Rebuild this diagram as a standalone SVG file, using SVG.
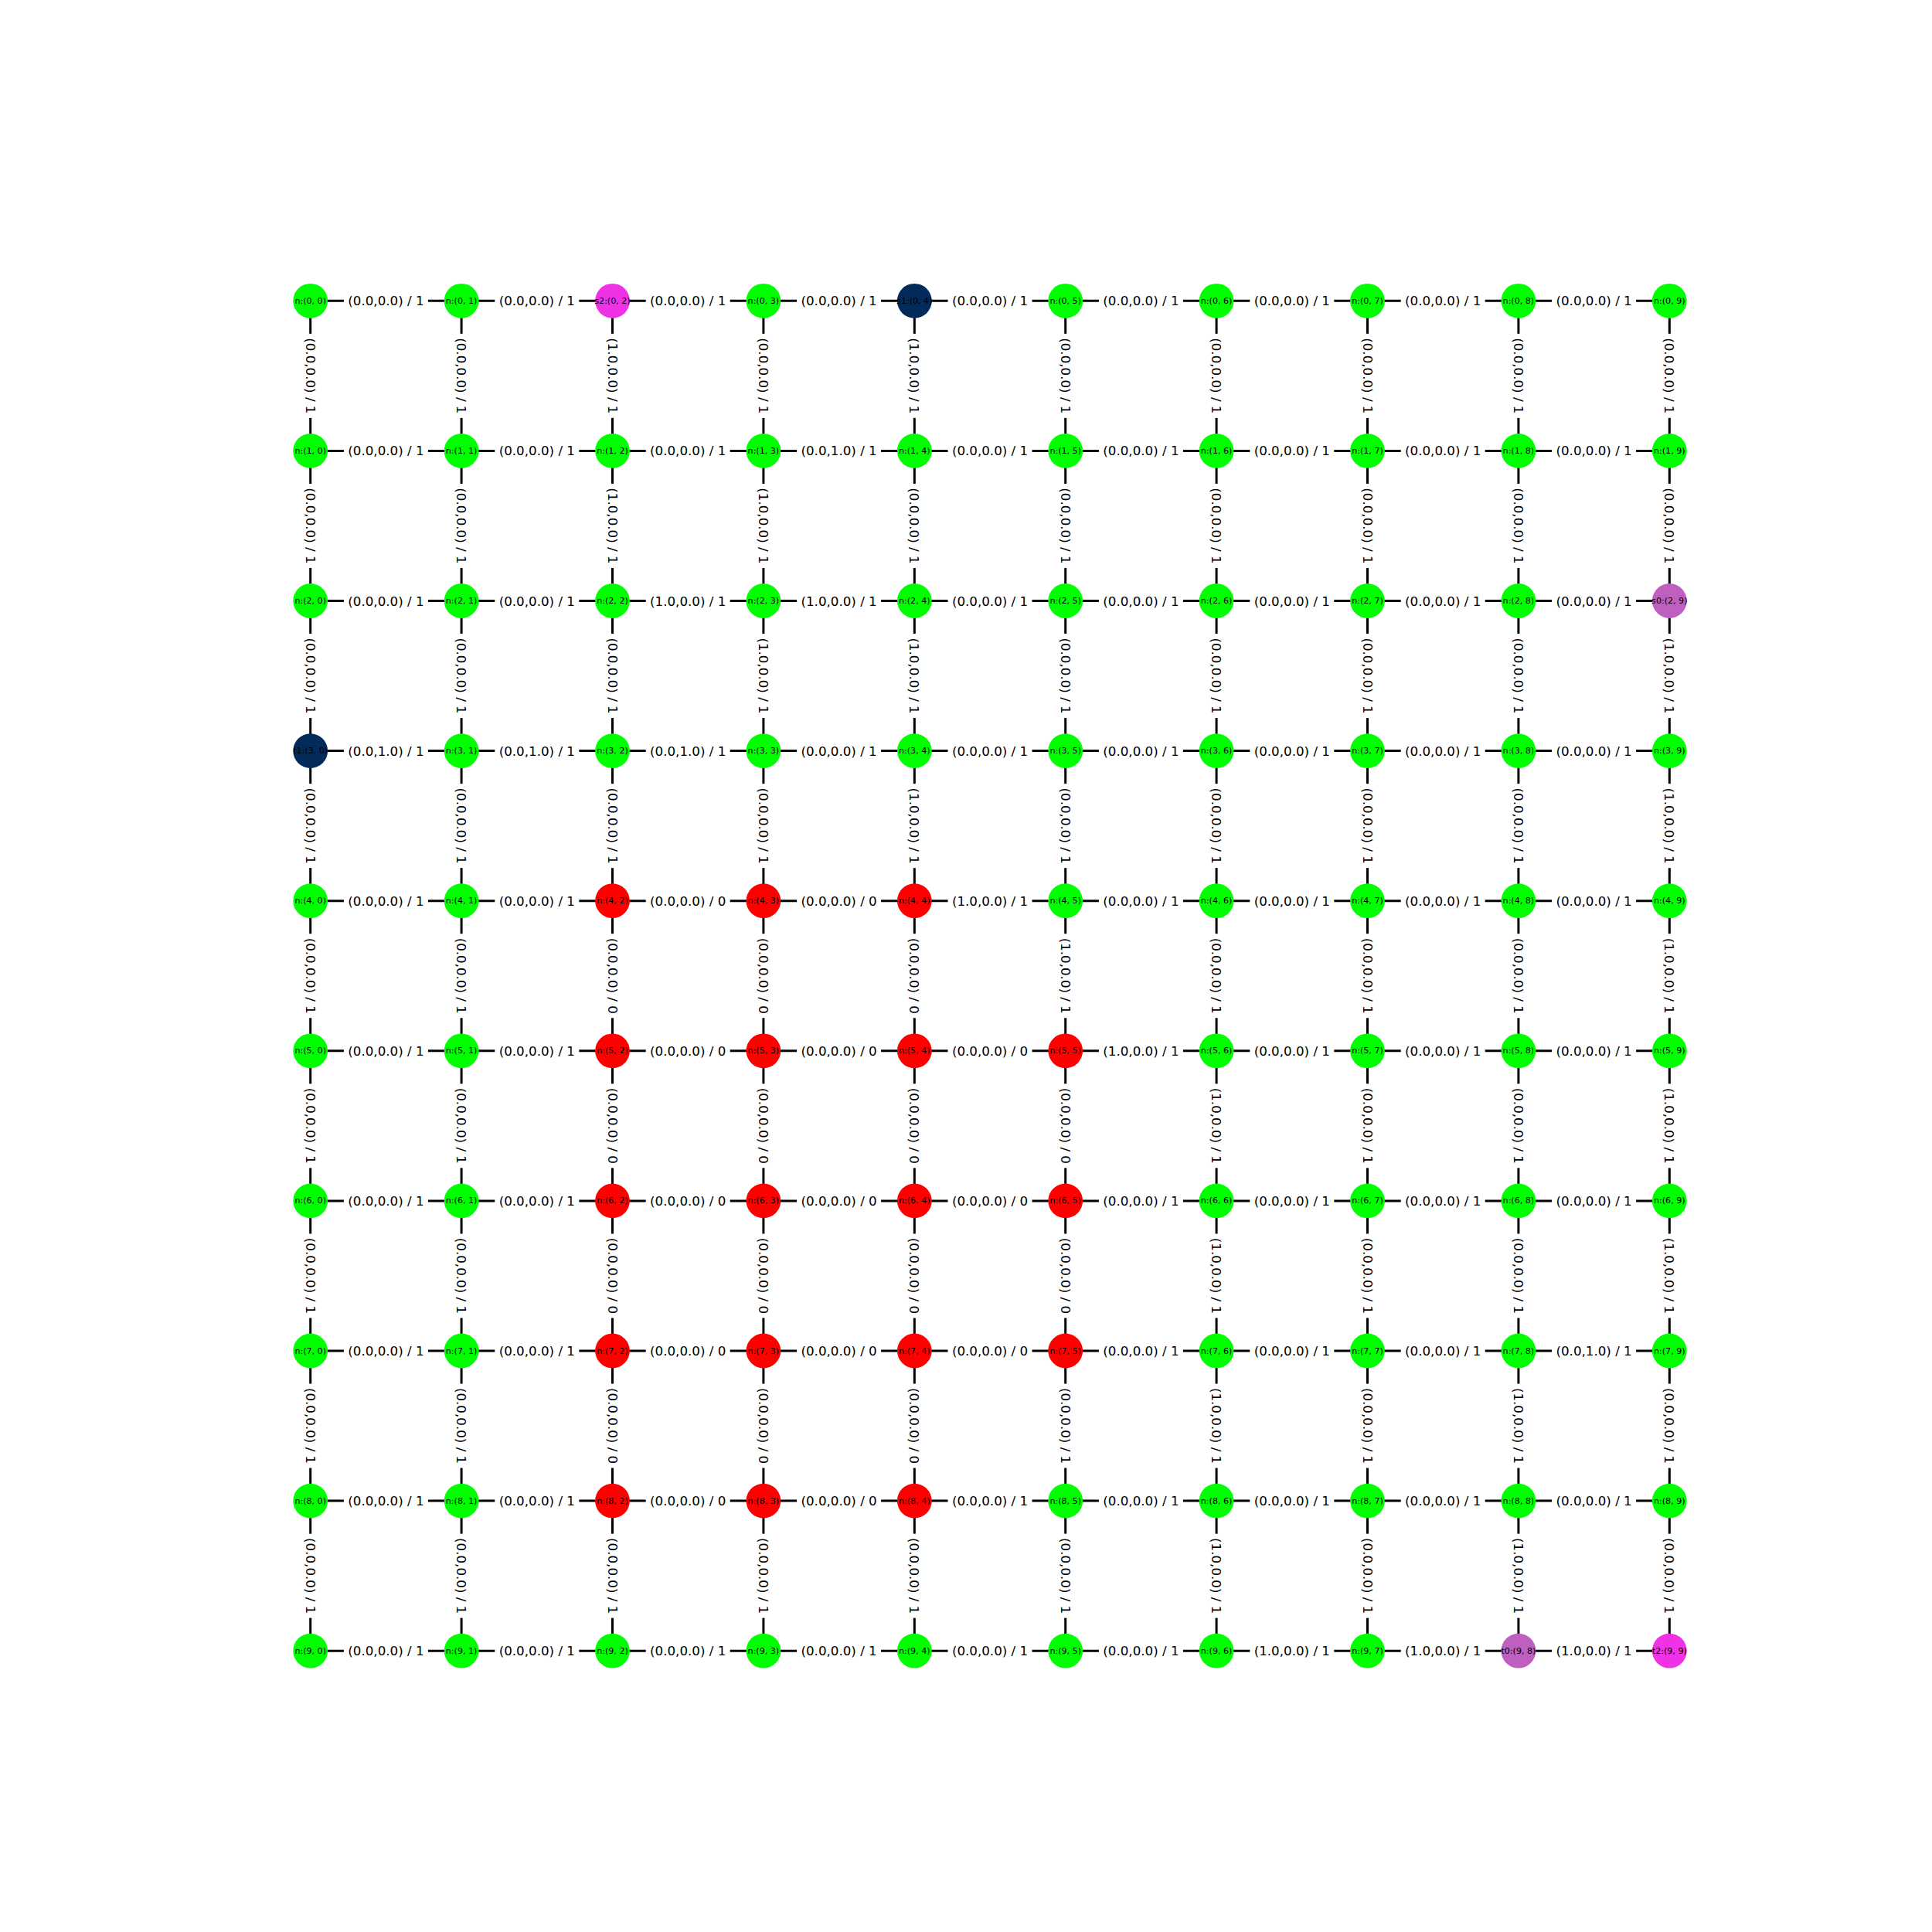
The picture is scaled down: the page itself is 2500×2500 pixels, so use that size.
<svg xmlns="http://www.w3.org/2000/svg" width="2500" height="2500" viewBox="0 0 2500 2500">
<style>
.e path{stroke:#000;stroke-width:3;fill:none}
#bx{fill:#fff;stroke:none}
.lb text{font-family:"DejaVu Sans","Liberation Sans",sans-serif;font-size:16.7px;fill:#000;text-anchor:middle;dominant-baseline:central}
.nd circle{stroke:none}
.nd text{font-family:"DejaVu Sans","Liberation Sans",sans-serif;font-size:11.1px;fill:#000;text-anchor:middle;dominant-baseline:central}
.g{fill:#00ff00}.r{fill:#ff0000}.b{fill:#032b5a}.m{fill:#f032e6}.p{fill:#bf5fbf}
</style>
<defs><rect id="bx" x="-54.5" y="-13" width="109" height="26" fill="#fff"/></defs>
<rect width="2500" height="2500" fill="#fff"/>
<g id="connectors" class="e">
<path d="M401.7 389.3H2160.3"/><path d="M401.7 583.4H2160.3"/><path d="M401.7 777.5H2160.3"/><path d="M401.7 971.6H2160.3"/><path d="M401.7 1165.7H2160.3"/><path d="M401.7 1359.8H2160.3"/><path d="M401.7 1553.9H2160.3"/><path d="M401.7 1748H2160.3"/><path d="M401.7 1942.1H2160.3"/><path d="M401.7 2136.2H2160.3"/>
<path d="M401.7 389.3V2136.2"/><path d="M597.1 389.3V2136.2"/><path d="M792.5 389.3V2136.2"/><path d="M987.9 389.3V2136.2"/><path d="M1183.3 389.3V2136.2"/><path d="M1378.7 389.3V2136.2"/><path d="M1574.1 389.3V2136.2"/><path d="M1769.5 389.3V2136.2"/><path d="M1964.9 389.3V2136.2"/><path d="M2160.3 389.3V2136.2"/>
</g>
<g id="nodes" class="nd">
<g id="n0-0" transform="translate(401.7,389.3)"><circle class="g" r="22.4"/><text>n:(0, 0)</text></g>
<g id="n0-1" transform="translate(597.1,389.3)"><circle class="g" r="22.4"/><text>n:(0, 1)</text></g>
<g id="n0-2" transform="translate(792.5,389.3)"><circle class="m" r="22.4"/><text>s2:(0, 2)</text></g>
<g id="n0-3" transform="translate(987.9,389.3)"><circle class="g" r="22.4"/><text>n:(0, 3)</text></g>
<g id="n0-4" transform="translate(1183.3,389.3)"><circle class="b" r="22.4"/><text>s1:(0, 4)</text></g>
<g id="n0-5" transform="translate(1378.7,389.3)"><circle class="g" r="22.4"/><text>n:(0, 5)</text></g>
<g id="n0-6" transform="translate(1574.1,389.3)"><circle class="g" r="22.4"/><text>n:(0, 6)</text></g>
<g id="n0-7" transform="translate(1769.5,389.3)"><circle class="g" r="22.4"/><text>n:(0, 7)</text></g>
<g id="n0-8" transform="translate(1964.9,389.3)"><circle class="g" r="22.4"/><text>n:(0, 8)</text></g>
<g id="n0-9" transform="translate(2160.3,389.3)"><circle class="g" r="22.4"/><text>n:(0, 9)</text></g>
<g id="n1-0" transform="translate(401.7,583.4)"><circle class="g" r="22.4"/><text>n:(1, 0)</text></g>
<g id="n1-1" transform="translate(597.1,583.4)"><circle class="g" r="22.4"/><text>n:(1, 1)</text></g>
<g id="n1-2" transform="translate(792.5,583.4)"><circle class="g" r="22.4"/><text>n:(1, 2)</text></g>
<g id="n1-3" transform="translate(987.9,583.4)"><circle class="g" r="22.4"/><text>n:(1, 3)</text></g>
<g id="n1-4" transform="translate(1183.3,583.4)"><circle class="g" r="22.4"/><text>n:(1, 4)</text></g>
<g id="n1-5" transform="translate(1378.7,583.4)"><circle class="g" r="22.4"/><text>n:(1, 5)</text></g>
<g id="n1-6" transform="translate(1574.1,583.4)"><circle class="g" r="22.4"/><text>n:(1, 6)</text></g>
<g id="n1-7" transform="translate(1769.5,583.4)"><circle class="g" r="22.4"/><text>n:(1, 7)</text></g>
<g id="n1-8" transform="translate(1964.9,583.4)"><circle class="g" r="22.4"/><text>n:(1, 8)</text></g>
<g id="n1-9" transform="translate(2160.3,583.4)"><circle class="g" r="22.4"/><text>n:(1, 9)</text></g>
<g id="n2-0" transform="translate(401.7,777.5)"><circle class="g" r="22.4"/><text>n:(2, 0)</text></g>
<g id="n2-1" transform="translate(597.1,777.5)"><circle class="g" r="22.4"/><text>n:(2, 1)</text></g>
<g id="n2-2" transform="translate(792.5,777.5)"><circle class="g" r="22.4"/><text>n:(2, 2)</text></g>
<g id="n2-3" transform="translate(987.9,777.5)"><circle class="g" r="22.4"/><text>n:(2, 3)</text></g>
<g id="n2-4" transform="translate(1183.3,777.5)"><circle class="g" r="22.4"/><text>n:(2, 4)</text></g>
<g id="n2-5" transform="translate(1378.7,777.5)"><circle class="g" r="22.4"/><text>n:(2, 5)</text></g>
<g id="n2-6" transform="translate(1574.1,777.5)"><circle class="g" r="22.4"/><text>n:(2, 6)</text></g>
<g id="n2-7" transform="translate(1769.5,777.5)"><circle class="g" r="22.4"/><text>n:(2, 7)</text></g>
<g id="n2-8" transform="translate(1964.9,777.5)"><circle class="g" r="22.4"/><text>n:(2, 8)</text></g>
<g id="n2-9" transform="translate(2160.3,777.5)"><circle class="p" r="22.4"/><text>s0:(2, 9)</text></g>
<g id="n3-0" transform="translate(401.7,971.6)"><circle class="b" r="22.4"/><text>t1:(3, 0)</text></g>
<g id="n3-1" transform="translate(597.1,971.6)"><circle class="g" r="22.4"/><text>n:(3, 1)</text></g>
<g id="n3-2" transform="translate(792.5,971.6)"><circle class="g" r="22.4"/><text>n:(3, 2)</text></g>
<g id="n3-3" transform="translate(987.9,971.6)"><circle class="g" r="22.4"/><text>n:(3, 3)</text></g>
<g id="n3-4" transform="translate(1183.3,971.6)"><circle class="g" r="22.4"/><text>n:(3, 4)</text></g>
<g id="n3-5" transform="translate(1378.7,971.6)"><circle class="g" r="22.4"/><text>n:(3, 5)</text></g>
<g id="n3-6" transform="translate(1574.1,971.6)"><circle class="g" r="22.4"/><text>n:(3, 6)</text></g>
<g id="n3-7" transform="translate(1769.5,971.6)"><circle class="g" r="22.4"/><text>n:(3, 7)</text></g>
<g id="n3-8" transform="translate(1964.9,971.6)"><circle class="g" r="22.4"/><text>n:(3, 8)</text></g>
<g id="n3-9" transform="translate(2160.3,971.6)"><circle class="g" r="22.4"/><text>n:(3, 9)</text></g>
<g id="n4-0" transform="translate(401.7,1165.7)"><circle class="g" r="22.4"/><text>n:(4, 0)</text></g>
<g id="n4-1" transform="translate(597.1,1165.7)"><circle class="g" r="22.4"/><text>n:(4, 1)</text></g>
<g id="n4-2" transform="translate(792.5,1165.7)"><circle class="r" r="22.4"/><text>n:(4, 2)</text></g>
<g id="n4-3" transform="translate(987.9,1165.7)"><circle class="r" r="22.4"/><text>n:(4, 3)</text></g>
<g id="n4-4" transform="translate(1183.3,1165.7)"><circle class="r" r="22.4"/><text>n:(4, 4)</text></g>
<g id="n4-5" transform="translate(1378.7,1165.7)"><circle class="g" r="22.4"/><text>n:(4, 5)</text></g>
<g id="n4-6" transform="translate(1574.1,1165.7)"><circle class="g" r="22.4"/><text>n:(4, 6)</text></g>
<g id="n4-7" transform="translate(1769.5,1165.7)"><circle class="g" r="22.4"/><text>n:(4, 7)</text></g>
<g id="n4-8" transform="translate(1964.9,1165.7)"><circle class="g" r="22.4"/><text>n:(4, 8)</text></g>
<g id="n4-9" transform="translate(2160.3,1165.7)"><circle class="g" r="22.4"/><text>n:(4, 9)</text></g>
<g id="n5-0" transform="translate(401.7,1359.8)"><circle class="g" r="22.4"/><text>n:(5, 0)</text></g>
<g id="n5-1" transform="translate(597.1,1359.8)"><circle class="g" r="22.4"/><text>n:(5, 1)</text></g>
<g id="n5-2" transform="translate(792.5,1359.8)"><circle class="r" r="22.4"/><text>n:(5, 2)</text></g>
<g id="n5-3" transform="translate(987.9,1359.8)"><circle class="r" r="22.4"/><text>n:(5, 3)</text></g>
<g id="n5-4" transform="translate(1183.3,1359.8)"><circle class="r" r="22.4"/><text>n:(5, 4)</text></g>
<g id="n5-5" transform="translate(1378.7,1359.8)"><circle class="r" r="22.4"/><text>n:(5, 5)</text></g>
<g id="n5-6" transform="translate(1574.1,1359.8)"><circle class="g" r="22.4"/><text>n:(5, 6)</text></g>
<g id="n5-7" transform="translate(1769.5,1359.8)"><circle class="g" r="22.4"/><text>n:(5, 7)</text></g>
<g id="n5-8" transform="translate(1964.9,1359.8)"><circle class="g" r="22.4"/><text>n:(5, 8)</text></g>
<g id="n5-9" transform="translate(2160.3,1359.8)"><circle class="g" r="22.4"/><text>n:(5, 9)</text></g>
<g id="n6-0" transform="translate(401.7,1553.9)"><circle class="g" r="22.4"/><text>n:(6, 0)</text></g>
<g id="n6-1" transform="translate(597.1,1553.9)"><circle class="g" r="22.4"/><text>n:(6, 1)</text></g>
<g id="n6-2" transform="translate(792.5,1553.9)"><circle class="r" r="22.4"/><text>n:(6, 2)</text></g>
<g id="n6-3" transform="translate(987.9,1553.9)"><circle class="r" r="22.4"/><text>n:(6, 3)</text></g>
<g id="n6-4" transform="translate(1183.3,1553.9)"><circle class="r" r="22.4"/><text>n:(6, 4)</text></g>
<g id="n6-5" transform="translate(1378.7,1553.9)"><circle class="r" r="22.4"/><text>n:(6, 5)</text></g>
<g id="n6-6" transform="translate(1574.1,1553.9)"><circle class="g" r="22.4"/><text>n:(6, 6)</text></g>
<g id="n6-7" transform="translate(1769.5,1553.9)"><circle class="g" r="22.4"/><text>n:(6, 7)</text></g>
<g id="n6-8" transform="translate(1964.9,1553.9)"><circle class="g" r="22.4"/><text>n:(6, 8)</text></g>
<g id="n6-9" transform="translate(2160.3,1553.9)"><circle class="g" r="22.4"/><text>n:(6, 9)</text></g>
<g id="n7-0" transform="translate(401.7,1748)"><circle class="g" r="22.4"/><text>n:(7, 0)</text></g>
<g id="n7-1" transform="translate(597.1,1748)"><circle class="g" r="22.4"/><text>n:(7, 1)</text></g>
<g id="n7-2" transform="translate(792.5,1748)"><circle class="r" r="22.4"/><text>n:(7, 2)</text></g>
<g id="n7-3" transform="translate(987.9,1748)"><circle class="r" r="22.4"/><text>n:(7, 3)</text></g>
<g id="n7-4" transform="translate(1183.3,1748)"><circle class="r" r="22.4"/><text>n:(7, 4)</text></g>
<g id="n7-5" transform="translate(1378.7,1748)"><circle class="r" r="22.4"/><text>n:(7, 5)</text></g>
<g id="n7-6" transform="translate(1574.1,1748)"><circle class="g" r="22.4"/><text>n:(7, 6)</text></g>
<g id="n7-7" transform="translate(1769.5,1748)"><circle class="g" r="22.4"/><text>n:(7, 7)</text></g>
<g id="n7-8" transform="translate(1964.9,1748)"><circle class="g" r="22.4"/><text>n:(7, 8)</text></g>
<g id="n7-9" transform="translate(2160.3,1748)"><circle class="g" r="22.4"/><text>n:(7, 9)</text></g>
<g id="n8-0" transform="translate(401.7,1942.1)"><circle class="g" r="22.4"/><text>n:(8, 0)</text></g>
<g id="n8-1" transform="translate(597.1,1942.1)"><circle class="g" r="22.4"/><text>n:(8, 1)</text></g>
<g id="n8-2" transform="translate(792.5,1942.1)"><circle class="r" r="22.4"/><text>n:(8, 2)</text></g>
<g id="n8-3" transform="translate(987.9,1942.1)"><circle class="r" r="22.4"/><text>n:(8, 3)</text></g>
<g id="n8-4" transform="translate(1183.3,1942.1)"><circle class="r" r="22.4"/><text>n:(8, 4)</text></g>
<g id="n8-5" transform="translate(1378.7,1942.1)"><circle class="g" r="22.4"/><text>n:(8, 5)</text></g>
<g id="n8-6" transform="translate(1574.1,1942.1)"><circle class="g" r="22.4"/><text>n:(8, 6)</text></g>
<g id="n8-7" transform="translate(1769.5,1942.1)"><circle class="g" r="22.4"/><text>n:(8, 7)</text></g>
<g id="n8-8" transform="translate(1964.9,1942.1)"><circle class="g" r="22.4"/><text>n:(8, 8)</text></g>
<g id="n8-9" transform="translate(2160.3,1942.1)"><circle class="g" r="22.4"/><text>n:(8, 9)</text></g>
<g id="n9-0" transform="translate(401.7,2136.2)"><circle class="g" r="22.4"/><text>n:(9, 0)</text></g>
<g id="n9-1" transform="translate(597.1,2136.2)"><circle class="g" r="22.4"/><text>n:(9, 1)</text></g>
<g id="n9-2" transform="translate(792.5,2136.2)"><circle class="g" r="22.4"/><text>n:(9, 2)</text></g>
<g id="n9-3" transform="translate(987.9,2136.2)"><circle class="g" r="22.4"/><text>n:(9, 3)</text></g>
<g id="n9-4" transform="translate(1183.3,2136.2)"><circle class="g" r="22.4"/><text>n:(9, 4)</text></g>
<g id="n9-5" transform="translate(1378.7,2136.2)"><circle class="g" r="22.4"/><text>n:(9, 5)</text></g>
<g id="n9-6" transform="translate(1574.1,2136.2)"><circle class="g" r="22.4"/><text>n:(9, 6)</text></g>
<g id="n9-7" transform="translate(1769.5,2136.2)"><circle class="g" r="22.4"/><text>n:(9, 7)</text></g>
<g id="n9-8" transform="translate(1964.9,2136.2)"><circle class="p" r="22.4"/><text>t0:(9, 8)</text></g>
<g id="n9-9" transform="translate(2160.3,2136.2)"><circle class="m" r="22.4"/><text>t2:(9, 9)</text></g>
</g>
<g id="edge-labels" class="lb">
<g transform="translate(499.4,389.3)"><use href="#bx"/><text>(0.0,0.0) / 1</text></g>
<g transform="translate(694.8,389.3)"><use href="#bx"/><text>(0.0,0.0) / 1</text></g>
<g transform="translate(890.2,389.3)"><use href="#bx"/><text>(0.0,0.0) / 1</text></g>
<g transform="translate(1085.6,389.3)"><use href="#bx"/><text>(0.0,0.0) / 1</text></g>
<g transform="translate(1281,389.3)"><use href="#bx"/><text>(0.0,0.0) / 1</text></g>
<g transform="translate(1476.4,389.3)"><use href="#bx"/><text>(0.0,0.0) / 1</text></g>
<g transform="translate(1671.8,389.3)"><use href="#bx"/><text>(0.0,0.0) / 1</text></g>
<g transform="translate(1867.2,389.3)"><use href="#bx"/><text>(0.0,0.0) / 1</text></g>
<g transform="translate(2062.6,389.3)"><use href="#bx"/><text>(0.0,0.0) / 1</text></g>
<g transform="translate(499.4,583.4)"><use href="#bx"/><text>(0.0,0.0) / 1</text></g>
<g transform="translate(694.8,583.4)"><use href="#bx"/><text>(0.0,0.0) / 1</text></g>
<g transform="translate(890.2,583.4)"><use href="#bx"/><text>(0.0,0.0) / 1</text></g>
<g transform="translate(1085.6,583.4)"><use href="#bx"/><text>(0.0,1.0) / 1</text></g>
<g transform="translate(1281,583.4)"><use href="#bx"/><text>(0.0,0.0) / 1</text></g>
<g transform="translate(1476.4,583.4)"><use href="#bx"/><text>(0.0,0.0) / 1</text></g>
<g transform="translate(1671.8,583.4)"><use href="#bx"/><text>(0.0,0.0) / 1</text></g>
<g transform="translate(1867.2,583.4)"><use href="#bx"/><text>(0.0,0.0) / 1</text></g>
<g transform="translate(2062.6,583.4)"><use href="#bx"/><text>(0.0,0.0) / 1</text></g>
<g transform="translate(499.4,777.5)"><use href="#bx"/><text>(0.0,0.0) / 1</text></g>
<g transform="translate(694.8,777.5)"><use href="#bx"/><text>(0.0,0.0) / 1</text></g>
<g transform="translate(890.2,777.5)"><use href="#bx"/><text>(1.0,0.0) / 1</text></g>
<g transform="translate(1085.6,777.5)"><use href="#bx"/><text>(1.0,0.0) / 1</text></g>
<g transform="translate(1281,777.5)"><use href="#bx"/><text>(0.0,0.0) / 1</text></g>
<g transform="translate(1476.4,777.5)"><use href="#bx"/><text>(0.0,0.0) / 1</text></g>
<g transform="translate(1671.8,777.5)"><use href="#bx"/><text>(0.0,0.0) / 1</text></g>
<g transform="translate(1867.2,777.5)"><use href="#bx"/><text>(0.0,0.0) / 1</text></g>
<g transform="translate(2062.6,777.5)"><use href="#bx"/><text>(0.0,0.0) / 1</text></g>
<g transform="translate(499.4,971.6)"><use href="#bx"/><text>(0.0,1.0) / 1</text></g>
<g transform="translate(694.8,971.6)"><use href="#bx"/><text>(0.0,1.0) / 1</text></g>
<g transform="translate(890.2,971.6)"><use href="#bx"/><text>(0.0,1.0) / 1</text></g>
<g transform="translate(1085.6,971.6)"><use href="#bx"/><text>(0.0,0.0) / 1</text></g>
<g transform="translate(1281,971.6)"><use href="#bx"/><text>(0.0,0.0) / 1</text></g>
<g transform="translate(1476.4,971.6)"><use href="#bx"/><text>(0.0,0.0) / 1</text></g>
<g transform="translate(1671.8,971.6)"><use href="#bx"/><text>(0.0,0.0) / 1</text></g>
<g transform="translate(1867.2,971.6)"><use href="#bx"/><text>(0.0,0.0) / 1</text></g>
<g transform="translate(2062.6,971.6)"><use href="#bx"/><text>(0.0,0.0) / 1</text></g>
<g transform="translate(499.4,1165.7)"><use href="#bx"/><text>(0.0,0.0) / 1</text></g>
<g transform="translate(694.8,1165.7)"><use href="#bx"/><text>(0.0,0.0) / 1</text></g>
<g transform="translate(890.2,1165.7)"><use href="#bx"/><text>(0.0,0.0) / 0</text></g>
<g transform="translate(1085.6,1165.7)"><use href="#bx"/><text>(0.0,0.0) / 0</text></g>
<g transform="translate(1281,1165.7)"><use href="#bx"/><text>(1.0,0.0) / 1</text></g>
<g transform="translate(1476.4,1165.7)"><use href="#bx"/><text>(0.0,0.0) / 1</text></g>
<g transform="translate(1671.8,1165.7)"><use href="#bx"/><text>(0.0,0.0) / 1</text></g>
<g transform="translate(1867.2,1165.7)"><use href="#bx"/><text>(0.0,0.0) / 1</text></g>
<g transform="translate(2062.6,1165.7)"><use href="#bx"/><text>(0.0,0.0) / 1</text></g>
<g transform="translate(499.4,1359.8)"><use href="#bx"/><text>(0.0,0.0) / 1</text></g>
<g transform="translate(694.8,1359.8)"><use href="#bx"/><text>(0.0,0.0) / 1</text></g>
<g transform="translate(890.2,1359.8)"><use href="#bx"/><text>(0.0,0.0) / 0</text></g>
<g transform="translate(1085.6,1359.8)"><use href="#bx"/><text>(0.0,0.0) / 0</text></g>
<g transform="translate(1281,1359.8)"><use href="#bx"/><text>(0.0,0.0) / 0</text></g>
<g transform="translate(1476.4,1359.8)"><use href="#bx"/><text>(1.0,0.0) / 1</text></g>
<g transform="translate(1671.8,1359.8)"><use href="#bx"/><text>(0.0,0.0) / 1</text></g>
<g transform="translate(1867.2,1359.8)"><use href="#bx"/><text>(0.0,0.0) / 1</text></g>
<g transform="translate(2062.6,1359.8)"><use href="#bx"/><text>(0.0,0.0) / 1</text></g>
<g transform="translate(499.4,1553.9)"><use href="#bx"/><text>(0.0,0.0) / 1</text></g>
<g transform="translate(694.8,1553.9)"><use href="#bx"/><text>(0.0,0.0) / 1</text></g>
<g transform="translate(890.2,1553.9)"><use href="#bx"/><text>(0.0,0.0) / 0</text></g>
<g transform="translate(1085.6,1553.9)"><use href="#bx"/><text>(0.0,0.0) / 0</text></g>
<g transform="translate(1281,1553.9)"><use href="#bx"/><text>(0.0,0.0) / 0</text></g>
<g transform="translate(1476.4,1553.9)"><use href="#bx"/><text>(0.0,0.0) / 1</text></g>
<g transform="translate(1671.8,1553.9)"><use href="#bx"/><text>(0.0,0.0) / 1</text></g>
<g transform="translate(1867.2,1553.9)"><use href="#bx"/><text>(0.0,0.0) / 1</text></g>
<g transform="translate(2062.6,1553.9)"><use href="#bx"/><text>(0.0,0.0) / 1</text></g>
<g transform="translate(499.4,1748)"><use href="#bx"/><text>(0.0,0.0) / 1</text></g>
<g transform="translate(694.8,1748)"><use href="#bx"/><text>(0.0,0.0) / 1</text></g>
<g transform="translate(890.2,1748)"><use href="#bx"/><text>(0.0,0.0) / 0</text></g>
<g transform="translate(1085.6,1748)"><use href="#bx"/><text>(0.0,0.0) / 0</text></g>
<g transform="translate(1281,1748)"><use href="#bx"/><text>(0.0,0.0) / 0</text></g>
<g transform="translate(1476.4,1748)"><use href="#bx"/><text>(0.0,0.0) / 1</text></g>
<g transform="translate(1671.8,1748)"><use href="#bx"/><text>(0.0,0.0) / 1</text></g>
<g transform="translate(1867.2,1748)"><use href="#bx"/><text>(0.0,0.0) / 1</text></g>
<g transform="translate(2062.6,1748)"><use href="#bx"/><text>(0.0,1.0) / 1</text></g>
<g transform="translate(499.4,1942.1)"><use href="#bx"/><text>(0.0,0.0) / 1</text></g>
<g transform="translate(694.8,1942.1)"><use href="#bx"/><text>(0.0,0.0) / 1</text></g>
<g transform="translate(890.2,1942.1)"><use href="#bx"/><text>(0.0,0.0) / 0</text></g>
<g transform="translate(1085.6,1942.1)"><use href="#bx"/><text>(0.0,0.0) / 0</text></g>
<g transform="translate(1281,1942.1)"><use href="#bx"/><text>(0.0,0.0) / 1</text></g>
<g transform="translate(1476.4,1942.1)"><use href="#bx"/><text>(0.0,0.0) / 1</text></g>
<g transform="translate(1671.8,1942.1)"><use href="#bx"/><text>(0.0,0.0) / 1</text></g>
<g transform="translate(1867.2,1942.1)"><use href="#bx"/><text>(0.0,0.0) / 1</text></g>
<g transform="translate(2062.6,1942.1)"><use href="#bx"/><text>(0.0,0.0) / 1</text></g>
<g transform="translate(499.4,2136.2)"><use href="#bx"/><text>(0.0,0.0) / 1</text></g>
<g transform="translate(694.8,2136.2)"><use href="#bx"/><text>(0.0,0.0) / 1</text></g>
<g transform="translate(890.2,2136.2)"><use href="#bx"/><text>(0.0,0.0) / 1</text></g>
<g transform="translate(1085.6,2136.2)"><use href="#bx"/><text>(0.0,0.0) / 1</text></g>
<g transform="translate(1281,2136.2)"><use href="#bx"/><text>(0.0,0.0) / 1</text></g>
<g transform="translate(1476.4,2136.2)"><use href="#bx"/><text>(0.0,0.0) / 1</text></g>
<g transform="translate(1671.8,2136.2)"><use href="#bx"/><text>(1.0,0.0) / 1</text></g>
<g transform="translate(1867.2,2136.2)"><use href="#bx"/><text>(1.0,0.0) / 1</text></g>
<g transform="translate(2062.6,2136.2)"><use href="#bx"/><text>(1.0,0.0) / 1</text></g>

<g transform="translate(401.7,486.35) rotate(90)"><use href="#bx"/><text>(0.0,0.0) / 1</text></g>
<g transform="translate(401.7,680.45) rotate(90)"><use href="#bx"/><text>(0.0,0.0) / 1</text></g>
<g transform="translate(401.7,874.55) rotate(90)"><use href="#bx"/><text>(0.0,0.0) / 1</text></g>
<g transform="translate(401.7,1068.65) rotate(90)"><use href="#bx"/><text>(0.0,0.0) / 1</text></g>
<g transform="translate(401.7,1262.75) rotate(90)"><use href="#bx"/><text>(0.0,0.0) / 1</text></g>
<g transform="translate(401.7,1456.85) rotate(90)"><use href="#bx"/><text>(0.0,0.0) / 1</text></g>
<g transform="translate(401.7,1650.95) rotate(90)"><use href="#bx"/><text>(0.0,0.0) / 1</text></g>
<g transform="translate(401.7,1845.05) rotate(90)"><use href="#bx"/><text>(0.0,0.0) / 1</text></g>
<g transform="translate(401.7,2039.15) rotate(90)"><use href="#bx"/><text>(0.0,0.0) / 1</text></g>
<g transform="translate(597.1,486.35) rotate(90)"><use href="#bx"/><text>(0.0,0.0) / 1</text></g>
<g transform="translate(597.1,680.45) rotate(90)"><use href="#bx"/><text>(0.0,0.0) / 1</text></g>
<g transform="translate(597.1,874.55) rotate(90)"><use href="#bx"/><text>(0.0,0.0) / 1</text></g>
<g transform="translate(597.1,1068.65) rotate(90)"><use href="#bx"/><text>(0.0,0.0) / 1</text></g>
<g transform="translate(597.1,1262.75) rotate(90)"><use href="#bx"/><text>(0.0,0.0) / 1</text></g>
<g transform="translate(597.1,1456.85) rotate(90)"><use href="#bx"/><text>(0.0,0.0) / 1</text></g>
<g transform="translate(597.1,1650.95) rotate(90)"><use href="#bx"/><text>(0.0,0.0) / 1</text></g>
<g transform="translate(597.1,1845.05) rotate(90)"><use href="#bx"/><text>(0.0,0.0) / 1</text></g>
<g transform="translate(597.1,2039.15) rotate(90)"><use href="#bx"/><text>(0.0,0.0) / 1</text></g>
<g transform="translate(792.5,486.35) rotate(90)"><use href="#bx"/><text>(1.0,0.0) / 1</text></g>
<g transform="translate(792.5,680.45) rotate(90)"><use href="#bx"/><text>(1.0,0.0) / 1</text></g>
<g transform="translate(792.5,874.55) rotate(90)"><use href="#bx"/><text>(0.0,0.0) / 1</text></g>
<g transform="translate(792.5,1068.65) rotate(90)"><use href="#bx"/><text>(0.0,0.0) / 1</text></g>
<g transform="translate(792.5,1262.75) rotate(90)"><use href="#bx"/><text>(0.0,0.0) / 0</text></g>
<g transform="translate(792.5,1456.85) rotate(90)"><use href="#bx"/><text>(0.0,0.0) / 0</text></g>
<g transform="translate(792.5,1650.95) rotate(90)"><use href="#bx"/><text>(0.0,0.0) / 0</text></g>
<g transform="translate(792.5,1845.05) rotate(90)"><use href="#bx"/><text>(0.0,0.0) / 0</text></g>
<g transform="translate(792.5,2039.15) rotate(90)"><use href="#bx"/><text>(0.0,0.0) / 1</text></g>
<g transform="translate(987.9,486.35) rotate(90)"><use href="#bx"/><text>(0.0,0.0) / 1</text></g>
<g transform="translate(987.9,680.45) rotate(90)"><use href="#bx"/><text>(1.0,0.0) / 1</text></g>
<g transform="translate(987.9,874.55) rotate(90)"><use href="#bx"/><text>(1.0,0.0) / 1</text></g>
<g transform="translate(987.9,1068.65) rotate(90)"><use href="#bx"/><text>(0.0,0.0) / 1</text></g>
<g transform="translate(987.9,1262.75) rotate(90)"><use href="#bx"/><text>(0.0,0.0) / 0</text></g>
<g transform="translate(987.9,1456.85) rotate(90)"><use href="#bx"/><text>(0.0,0.0) / 0</text></g>
<g transform="translate(987.9,1650.95) rotate(90)"><use href="#bx"/><text>(0.0,0.0) / 0</text></g>
<g transform="translate(987.9,1845.05) rotate(90)"><use href="#bx"/><text>(0.0,0.0) / 0</text></g>
<g transform="translate(987.9,2039.15) rotate(90)"><use href="#bx"/><text>(0.0,0.0) / 1</text></g>
<g transform="translate(1183.3,486.35) rotate(90)"><use href="#bx"/><text>(1.0,0.0) / 1</text></g>
<g transform="translate(1183.3,680.45) rotate(90)"><use href="#bx"/><text>(0.0,0.0) / 1</text></g>
<g transform="translate(1183.3,874.55) rotate(90)"><use href="#bx"/><text>(1.0,0.0) / 1</text></g>
<g transform="translate(1183.3,1068.65) rotate(90)"><use href="#bx"/><text>(1.0,0.0) / 1</text></g>
<g transform="translate(1183.3,1262.75) rotate(90)"><use href="#bx"/><text>(0.0,0.0) / 0</text></g>
<g transform="translate(1183.3,1456.85) rotate(90)"><use href="#bx"/><text>(0.0,0.0) / 0</text></g>
<g transform="translate(1183.3,1650.95) rotate(90)"><use href="#bx"/><text>(0.0,0.0) / 0</text></g>
<g transform="translate(1183.3,1845.05) rotate(90)"><use href="#bx"/><text>(0.0,0.0) / 0</text></g>
<g transform="translate(1183.3,2039.15) rotate(90)"><use href="#bx"/><text>(0.0,0.0) / 1</text></g>
<g transform="translate(1378.7,486.35) rotate(90)"><use href="#bx"/><text>(0.0,0.0) / 1</text></g>
<g transform="translate(1378.7,680.45) rotate(90)"><use href="#bx"/><text>(0.0,0.0) / 1</text></g>
<g transform="translate(1378.7,874.55) rotate(90)"><use href="#bx"/><text>(0.0,0.0) / 1</text></g>
<g transform="translate(1378.7,1068.65) rotate(90)"><use href="#bx"/><text>(0.0,0.0) / 1</text></g>
<g transform="translate(1378.7,1262.75) rotate(90)"><use href="#bx"/><text>(1.0,0.0) / 1</text></g>
<g transform="translate(1378.7,1456.85) rotate(90)"><use href="#bx"/><text>(0.0,0.0) / 0</text></g>
<g transform="translate(1378.7,1650.95) rotate(90)"><use href="#bx"/><text>(0.0,0.0) / 0</text></g>
<g transform="translate(1378.7,1845.05) rotate(90)"><use href="#bx"/><text>(0.0,0.0) / 1</text></g>
<g transform="translate(1378.7,2039.15) rotate(90)"><use href="#bx"/><text>(0.0,0.0) / 1</text></g>
<g transform="translate(1574.1,486.35) rotate(90)"><use href="#bx"/><text>(0.0,0.0) / 1</text></g>
<g transform="translate(1574.1,680.45) rotate(90)"><use href="#bx"/><text>(0.0,0.0) / 1</text></g>
<g transform="translate(1574.1,874.55) rotate(90)"><use href="#bx"/><text>(0.0,0.0) / 1</text></g>
<g transform="translate(1574.1,1068.65) rotate(90)"><use href="#bx"/><text>(0.0,0.0) / 1</text></g>
<g transform="translate(1574.1,1262.75) rotate(90)"><use href="#bx"/><text>(0.0,0.0) / 1</text></g>
<g transform="translate(1574.1,1456.85) rotate(90)"><use href="#bx"/><text>(1.0,0.0) / 1</text></g>
<g transform="translate(1574.1,1650.95) rotate(90)"><use href="#bx"/><text>(1.0,0.0) / 1</text></g>
<g transform="translate(1574.1,1845.05) rotate(90)"><use href="#bx"/><text>(1.0,0.0) / 1</text></g>
<g transform="translate(1574.1,2039.15) rotate(90)"><use href="#bx"/><text>(1.0,0.0) / 1</text></g>
<g transform="translate(1769.5,486.35) rotate(90)"><use href="#bx"/><text>(0.0,0.0) / 1</text></g>
<g transform="translate(1769.5,680.45) rotate(90)"><use href="#bx"/><text>(0.0,0.0) / 1</text></g>
<g transform="translate(1769.5,874.55) rotate(90)"><use href="#bx"/><text>(0.0,0.0) / 1</text></g>
<g transform="translate(1769.5,1068.65) rotate(90)"><use href="#bx"/><text>(0.0,0.0) / 1</text></g>
<g transform="translate(1769.5,1262.75) rotate(90)"><use href="#bx"/><text>(0.0,0.0) / 1</text></g>
<g transform="translate(1769.5,1456.85) rotate(90)"><use href="#bx"/><text>(0.0,0.0) / 1</text></g>
<g transform="translate(1769.5,1650.95) rotate(90)"><use href="#bx"/><text>(0.0,0.0) / 1</text></g>
<g transform="translate(1769.5,1845.05) rotate(90)"><use href="#bx"/><text>(0.0,0.0) / 1</text></g>
<g transform="translate(1769.5,2039.15) rotate(90)"><use href="#bx"/><text>(0.0,0.0) / 1</text></g>
<g transform="translate(1964.9,486.35) rotate(90)"><use href="#bx"/><text>(0.0,0.0) / 1</text></g>
<g transform="translate(1964.9,680.45) rotate(90)"><use href="#bx"/><text>(0.0,0.0) / 1</text></g>
<g transform="translate(1964.9,874.55) rotate(90)"><use href="#bx"/><text>(0.0,0.0) / 1</text></g>
<g transform="translate(1964.9,1068.65) rotate(90)"><use href="#bx"/><text>(0.0,0.0) / 1</text></g>
<g transform="translate(1964.9,1262.75) rotate(90)"><use href="#bx"/><text>(0.0,0.0) / 1</text></g>
<g transform="translate(1964.9,1456.85) rotate(90)"><use href="#bx"/><text>(0.0,0.0) / 1</text></g>
<g transform="translate(1964.9,1650.95) rotate(90)"><use href="#bx"/><text>(0.0,0.0) / 1</text></g>
<g transform="translate(1964.9,1845.05) rotate(90)"><use href="#bx"/><text>(1.0,0.0) / 1</text></g>
<g transform="translate(1964.9,2039.15) rotate(90)"><use href="#bx"/><text>(1.0,0.0) / 1</text></g>
<g transform="translate(2160.3,486.35) rotate(90)"><use href="#bx"/><text>(0.0,0.0) / 1</text></g>
<g transform="translate(2160.3,680.45) rotate(90)"><use href="#bx"/><text>(0.0,0.0) / 1</text></g>
<g transform="translate(2160.3,874.55) rotate(90)"><use href="#bx"/><text>(1.0,0.0) / 1</text></g>
<g transform="translate(2160.3,1068.65) rotate(90)"><use href="#bx"/><text>(1.0,0.0) / 1</text></g>
<g transform="translate(2160.3,1262.75) rotate(90)"><use href="#bx"/><text>(1.0,0.0) / 1</text></g>
<g transform="translate(2160.3,1456.85) rotate(90)"><use href="#bx"/><text>(1.0,0.0) / 1</text></g>
<g transform="translate(2160.3,1650.95) rotate(90)"><use href="#bx"/><text>(1.0,0.0) / 1</text></g>
<g transform="translate(2160.3,1845.05) rotate(90)"><use href="#bx"/><text>(0.0,0.0) / 1</text></g>
<g transform="translate(2160.3,2039.15) rotate(90)"><use href="#bx"/><text>(0.0,0.0) / 1</text></g>
</g>
</svg>
